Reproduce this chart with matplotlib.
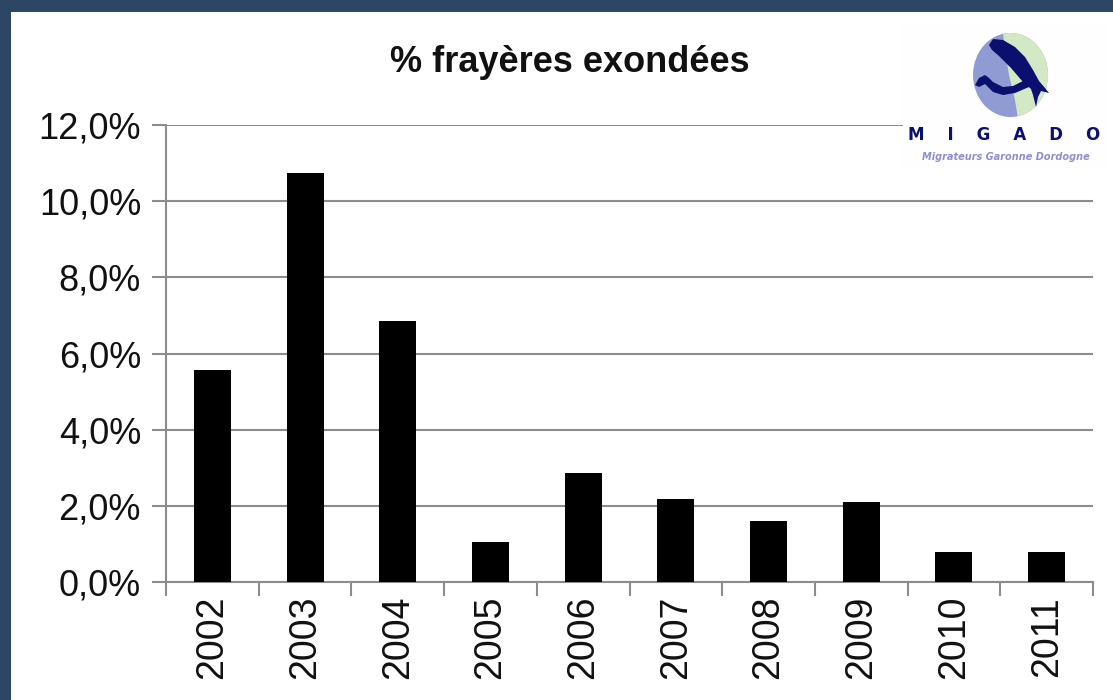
import matplotlib.pyplot as plt
from matplotlib.patches import Rectangle, Ellipse, Polygon
import numpy as np

plt.rcParams['font.family'] = ['Liberation Sans', 'DejaVu Sans']

# data
years = ['2002', '2003', '2004', '2005', '2006', '2007', '2008', '2009', '2010', '2011']
pct_exondees = [0.0556, 0.1073, 0.0685, 0.0105, 0.0286, 0.0218, 0.0160, 0.0210, 0.0079, 0.0079]
y_ticks = [0.0, 0.02, 0.04, 0.06, 0.08, 0.10, 0.12]

W, H = 1113, 700
fig = plt.figure(figsize=(W / 100, H / 100), dpi=100)
fig.patch.set_facecolor('#2c4663')
# white panel inside the dark frame
fig.add_artist(Rectangle((11 / W, 0), 1, (H - 12) / H, transform=fig.transFigure,
                         facecolor='white', edgecolor='none', zorder=-1))

ax = fig.add_axes([166 / W, (H - 582) / H, (1093 - 166) / W, (582 - 125) / H])
ax.set_facecolor('white')
x = np.arange(len(years))
ax.bar(x, pct_exondees, width=0.4, color='black', zorder=3)

ax.set_xlim(-0.5, len(years) - 0.5)
ax.set_ylim(0, 0.12)
ax.set_yticks(y_ticks)
ax.set_yticklabels([('%.1f%%' % (v * 100)).replace('.', ',') for v in y_ticks],
                   fontsize=26, color='#111111')
ax.yaxis.grid(True, color='#8c8c8c', linewidth=1.5, zorder=0)
ax.set_axisbelow(True)

ax.set_xticks(x)
ax.set_xticklabels(years, rotation=90, fontsize=27, color='#111111')
ax.set_xticks(np.arange(len(years) + 1) - 0.5, minor=True)
ax.tick_params(axis='x', which='major', length=0, pad=10)
ax.tick_params(axis='x', which='minor', length=10, width=1.5, color='#8c8c8c')
ax.tick_params(axis='y', length=10, width=1.5, color='#8c8c8c', pad=8)

for s in ['top', 'right']:
    ax.spines[s].set_visible(False)
for s in ['left', 'bottom']:
    ax.spines[s].set_color('#8c8c8c')
    ax.spines[s].set_linewidth(1.5)

fig.text(570 / W, 1 - 62 / H, '% frayères exondées', ha='center', va='center',
         fontsize=26, fontweight='bold', color='#111111')

# MIGADO logo (drawn in pixel coordinates of its box)
lx0, ly0, lw, lh = 903, 25, 202, 143
lax = fig.add_axes([lx0 / W, (H - ly0 - lh) / H, lw / W, lh / H])
lax.set_xlim(0, lw)
lax.set_ylim(lh, 0)
lax.axis('off')
lax.add_patch(Rectangle((0, 0), lw, lh, facecolor='#fefefe', edgecolor='none'))
ell = Ellipse((107.5, 50), 75, 84, facecolor='#8f9bd2', edgecolor='none')
lax.add_patch(ell)
green = Polygon([(99, 0), (160, 0), (160, 100), (116, 100), (112, 75), (106, 50), (102, 25)],
                facecolor='#d3e8c5', edgecolor='none')
lax.add_patch(green)
green.set_clip_path(ell)
navy = '#0b0f6e'
fish = Polygon([(86, 20), (90, 14), (100, 15), (112, 22), (122, 32), (130, 45), (136, 56),
                (142, 63), (146, 68), (138, 66), (135, 72), (133, 82), (130, 70), (128, 64),
                (120, 57), (108, 43), (96, 31), (89, 25)],
               facecolor=navy, edgecolor='none')
lax.add_patch(fish)
wave = Polygon([(72, 60), (76, 53), (82, 50), (86, 53), (90, 57), (100, 62), (110, 61),
                (120, 56), (126, 56), (126, 62), (112, 68), (100, 70), (90, 67), (82, 59),
                (76, 62)],
               facecolor=navy, edgecolor='none')
lax.add_patch(wave)
lax.text(101, 110, 'M    I    G    A    D    O', ha='center', va='center', fontsize=12,
         fontweight='bold', color=navy, family='DejaVu Sans')
lax.text(103, 132, 'Migrateurs Garonne Dordogne', ha='center', va='center', fontsize=7,
         fontweight='bold', style='italic', color='#8c8fcf', family='DejaVu Sans')

fig.savefig('out.png', dpi=100, facecolor=fig.get_facecolor())
